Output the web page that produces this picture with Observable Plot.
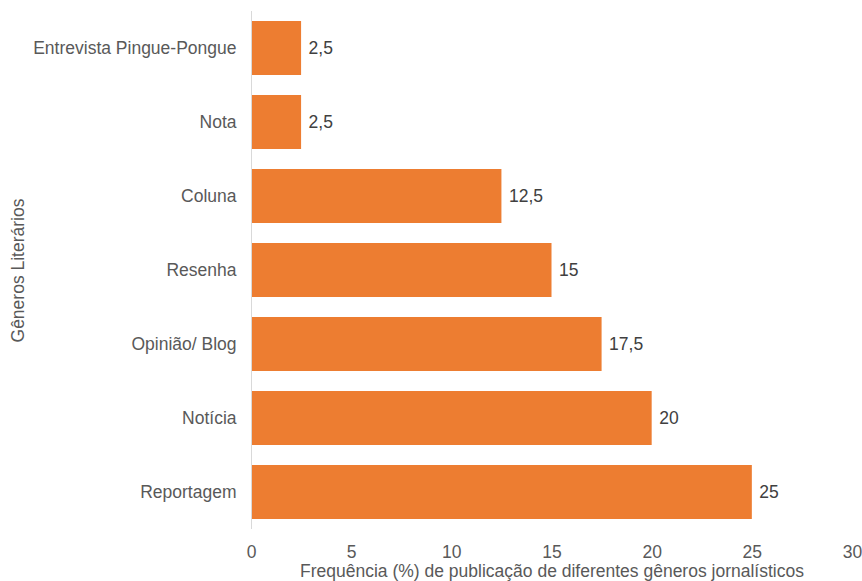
<!DOCTYPE html>
<html>
<head>
<meta charset="utf-8">
<script src="https://cdn.jsdelivr.net/npm/d3@7"></script>
<script src="https://cdn.jsdelivr.net/npm/@observablehq/plot@0.6"></script>
<style>
  html, body { margin: 0; padding: 0; background: #fff; }
  svg { display: block; }
  svg text { font-family: 'Liberation Sans', Arial, sans-serif; }
</style>
</head>
<body>
<div id="chart"></div>
<script>
const genres = ["Entrevista Pingue-Pongue", "Nota", "Coluna", "Resenha", "Opinião/ Blog", "Notícia", "Reportagem"];
const values = [2.5, 2.5, 12.5, 15, 17.5, 20, 25];
const xTicks = [0, 5, 10, 15, 20, 25, 30];
const xTitle = "Frequência (%) de publicação de diferentes gêneros jornalísticos";
const yTitle = "Gêneros Literários";

const data = genres.map((g, i) => ({genre: g, value: values[i]}));
const fmt = v => String(v).replace(".", ",");
const FS = 17.5;

const chart = Plot.plot({
  width: 862,
  height: 581,
  marginLeft: 251,
  marginRight: 10,
  marginTop: 11,
  marginBottom: 52,
  style: {fontFamily: "'Liberation Sans', Arial, sans-serif", fontSize: FS + "px", color: "#595959", background: "#fff"},
  x: {domain: [0, 30]},
  y: {domain: genres, paddingInner: 0.27, paddingOuter: 0.135},
  marks: [
    Plot.barX(data, {y: "genre", x: "value", fill: "#ED7D31"}),
    Plot.ruleX([0], {stroke: "#d9d9d9", strokeWidth: 1}),
    Plot.text(data, {y: "genre", x: "value", text: d => fmt(d.value), textAnchor: "start", dx: 7, fill: "#404040", fontSize: FS}),
    Plot.axisX({ticks: xTicks, tickFormat: d => String(d), tickSize: 0, tickPadding: 16, fontSize: FS, fill: "#595959",
      label: xTitle, labelAnchor: "center", labelArrow: "none", labelOffset: 47}),
    Plot.axisY({tickSize: 0, tickPadding: 15, fontSize: FS, fill: "#595959",
      label: yTitle, labelAnchor: "center", labelArrow: "none", labelOffset: 240})
  ]
});
document.getElementById("chart").appendChild(chart);
</script>
</body>
</html>
